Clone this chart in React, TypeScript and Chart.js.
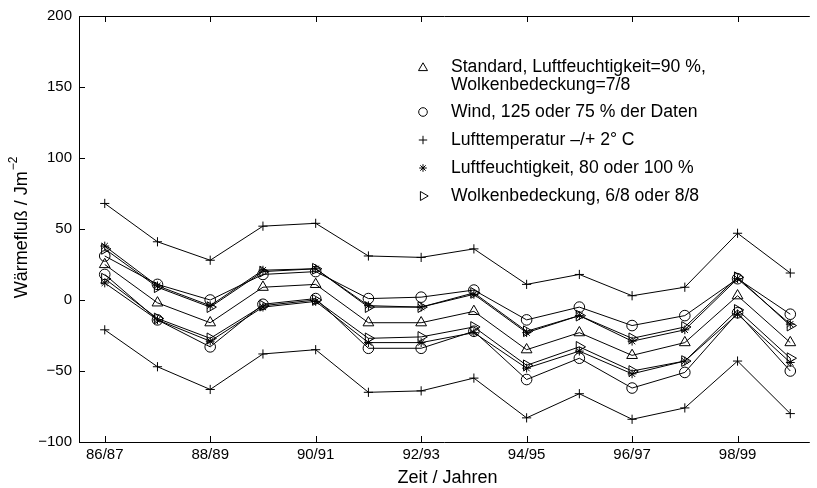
import { useEffect, useRef } from 'react';
import { Chart, registerables } from 'chart.js';

Chart.register(...registerables);

// Winter seasons on the x axis (one point per season)
const seasons = [
  '86/87', '87/88', '88/89', '89/90', '90/91', '91/92', '92/93',
  '93/94', '94/95', '95/96', '96/97', '97/98', '98/99', '99/00',
];

// Heat flux (J m^-2) per season for each sensitivity run
const standard = [25, -2, -16, 9, 11, -16, -16, -8, -35, -23, -39, -30, 3, -30];
const windHigh = [31, 11, 0, 18, 20, 1, 2, 7, -14, -5, -18, -11, 15, -10];
const windLow = [18, -14, -33, -3, 1, -34, -34, -22, -56, -41, -62, -51, -9, -50];
const tempLow = [68, 41, 28, 52, 54, 31, 30, 36, 11, 18, 3, 9, 47, 19];
const tempHigh = [-21, -47, -63, -38, -35, -65, -64, -55, -83, -66, -84, -76, -43, -80];
const humLow = [38, 10, -4, 21, 22, -4, -5, 4, -23, -11, -29, -21, 15, -17];
const humHigh = [12, -14, -29, -5, -1, -30, -30, -23, -48, -36, -52, -43, -10, -44];
const cloudLow = [36, 9, -5, 20, 22, -5, -5, 5, -22, -11, -27, -19, 16, -18];
const cloudHigh = [15, -13, -27, -4, 0, -27, -26, -19, -46, -33, -50, -43, -7, -41];

// Axis tick values
const yTicks = [-100, -50, 0, 50, 100, 150, 200];

// Legend entries
const legendLabels: string[][] = [
  ['Standard, Luftfeuchtigkeit=90 %,', 'Wolkenbedeckung=7/8'],
  ['Wind, 125 oder 75 % der Daten'],
  ['Lufttemperatur –/+ 2° C'],
  ['Luftfeuchtigkeit, 80 oder 100 %'],
  ['Wolkenbedeckung, 6/8 oder 8/8'],
];
const legendMarkers = ['triangle', 'circle', 'cross', 'star', 'triangleRight'];

const FONT = '"Liberation Sans", Arial, Helvetica, sans-serif';

type Marker = { style: string; radius: number; rotation: number };
const markerSpec: Record<string, Marker> = {
  triangle: { style: 'triangle', radius: 6.2, rotation: 0 },
  circle: { style: 'circle', radius: 5.3, rotation: 0 },
  cross: { style: 'cross', radius: 4.6, rotation: 0 },
  star: { style: 'star', radius: 4.4, rotation: 0 },
  triangleRight: { style: 'triangle', radius: 6.2, rotation: 90 },
};

function drawMarker(ctx: CanvasRenderingContext2D, kind: string, x: number, y: number, r: number) {
  ctx.beginPath();
  if (kind === 'circle') {
    ctx.arc(x, y, r, 0, Math.PI * 2);
  } else if (kind === 'triangle' || kind === 'triangleRight') {
    let a = kind === 'triangle' ? 0 : Math.PI / 2;
    for (let k = 0; k < 3; k++) {
      const px = x + Math.sin(a) * r;
      const py = y - Math.cos(a) * r;
      if (k === 0) ctx.moveTo(px, py);
      else ctx.lineTo(px, py);
      a += (2 * Math.PI) / 3;
    }
    ctx.closePath();
  } else if (kind === 'cross') {
    ctx.moveTo(x - r, y);
    ctx.lineTo(x + r, y);
    ctx.moveTo(x, y - r);
    ctx.lineTo(x, y + r);
  } else if (kind === 'star') {
    for (let k = 0; k < 4; k++) {
      const a = (k * Math.PI) / 4;
      ctx.moveTo(x - Math.cos(a) * r, y - Math.sin(a) * r);
      ctx.lineTo(x + Math.cos(a) * r, y + Math.sin(a) * r);
    }
  }
  ctx.stroke();
}

const series: { data: number[]; marker: string }[] = [
  { data: tempLow, marker: 'cross' },
  { data: humLow, marker: 'star' },
  { data: cloudLow, marker: 'triangleRight' },
  { data: windHigh, marker: 'circle' },
  { data: standard, marker: 'triangle' },
  { data: cloudHigh, marker: 'triangleRight' },
  { data: humHigh, marker: 'star' },
  { data: windLow, marker: 'circle' },
  { data: tempHigh, marker: 'cross' },
];

const framePlugin = {
  id: 'frame',
  afterDraw(chart: any) {
    const { ctx, chartArea } = chart;
    const xs = chart.scales.x;
    const ys = chart.scales.y;
    const { left, right, top, bottom } = chartArea;
    ctx.save();
    ctx.strokeStyle = '#000';
    ctx.lineWidth = 1;
    ctx.beginPath();
    ctx.moveTo(left + 0.5, bottom + 0.5);
    ctx.lineTo(left + 0.5, top + 0.5);
    ctx.lineTo(right, top + 0.5);
    ctx.moveTo(left + 0.5, bottom + 0.5);
    ctx.lineTo(right, bottom + 0.5);
    // inward ticks
    for (let i = 0; i < seasons.length; i += 2) {
      const px = Math.round(xs.getPixelForValue(i)) + 0.5;
      ctx.moveTo(px, bottom);
      ctx.lineTo(px, bottom - 6);
      ctx.moveTo(px, top);
      ctx.lineTo(px, top + 6);
    }
    for (const v of yTicks) {
      const py = Math.round(ys.getPixelForValue(v)) + 0.5;
      ctx.moveTo(left, py);
      ctx.lineTo(left + 6, py);
    }
    ctx.stroke();

    // axis titles
    ctx.fillStyle = '#000';
    ctx.font = `18px ${FONT}`;
    ctx.textAlign = 'center';
    ctx.textBaseline = 'middle';
    ctx.fillText('Zeit / Jahren', xs.getPixelForValue(6.5), 478);

    ctx.translate(22, 228);
    ctx.rotate(-Math.PI / 2);
    const main = 'Wärmefluß / Jm';
    const sup = '−2';
    ctx.font = `18px ${FONT}`;
    const w1 = ctx.measureText(main).width;
    ctx.font = `12px ${FONT}`;
    const w2 = ctx.measureText(sup).width;
    const x0 = -(w1 + w2) / 2;
    ctx.textAlign = 'left';
    ctx.font = `18px ${FONT}`;
    ctx.fillText(main, x0, 0);
    ctx.font = `12px ${FONT}`;
    ctx.fillText(sup, x0 + w1 + 1, -8);
    ctx.restore();

    // legend
    ctx.save();
    ctx.strokeStyle = '#000';
    ctx.fillStyle = '#000';
    ctx.lineWidth = 1;
    ctx.font = `17.6px ${FONT}`;
    ctx.textAlign = 'left';
    ctx.textBaseline = 'middle';
    const rows = [67, 112, 140, 168, 196];
    legendLabels.forEach((lines, i) => {
      const y = rows[i];
      const kind = legendMarkers[i];
      const r = kind === 'circle' ? 4.3 : kind === 'star' ? 3.8 : kind === 'cross' ? 4.2 : 5.2;
      drawMarker(ctx, kind, 423, y + (kind === 'triangle' ? 1 : 0), r);
      lines.forEach((t, j) => ctx.fillText(t, 451, y + j * 18.5));
    });
    ctx.restore();
  },
};

export default function App() {
  const ref = useRef<HTMLCanvasElement>(null);

  useEffect(() => {
    const canvas = ref.current;
    if (!canvas) return;
    const chart = new Chart(canvas, {
      type: 'line',
      data: {
        datasets: series.map((s) => {
          const m = markerSpec[s.marker];
          return {
            data: s.data.map((v, i) => ({ x: i, y: v })),
            borderColor: '#000',
            borderWidth: 1,
            pointStyle: m.style as any,
            pointRadius: m.radius,
            pointRotation: m.rotation,
            pointBorderColor: '#000',
            pointBackgroundColor: 'rgba(0,0,0,0)',
            pointBorderWidth: 1,
            tension: 0,
            fill: false,
          };
        }),
      },
      options: {
        animation: false,
        responsive: false,
        devicePixelRatio: 1,
        layout: { padding: { top: 14, right: 0, left: 0, bottom: 0 } },
        plugins: { legend: { display: false }, tooltip: { enabled: false } },
        scales: {
          x: {
            type: 'linear',
            min: -0.488,
            max: 13.37,
            grid: { display: false, drawTicks: false },
            border: { display: false },
            ticks: {
              stepSize: 2,
              autoSkip: false,
              color: '#000',
              padding: 4,
              font: { family: FONT, size: 15 },
              callback: (v: any) => seasons[v as number] ?? '',
            },
            afterBuildTicks: (s: any) => {
              s.ticks = seasons
                .map((_, i) => i)
                .filter((i) => i % 2 === 0)
                .map((i) => ({ value: i }));
            },
            afterFit: (s: any) => {
              s.height = 46;
            },
          },
          y: {
            min: -100,
            max: 200,
            grid: { display: false, drawTicks: false },
            border: { display: false },
            ticks: {
              stepSize: 50,
              color: '#000',
              padding: 7,
              font: { family: FONT, size: 15 },
              callback: (v: any) => String(v).replace('-', '−'),
            },
            afterBuildTicks: (s: any) => {
              s.ticks = yTicks.map((v) => ({ value: v }));
            },
            afterFit: (s: any) => {
              s.width = 79;
            },
          },
        },
      },
      plugins: [framePlugin],
    });
    return () => chart.destroy();
  }, []);

  return (
    <div style={{ position: 'absolute', left: 0, top: 0, width: 817, height: 488, background: '#fff' }}>
      <canvas ref={ref} width={817} height={488} />
    </div>
  );
}
